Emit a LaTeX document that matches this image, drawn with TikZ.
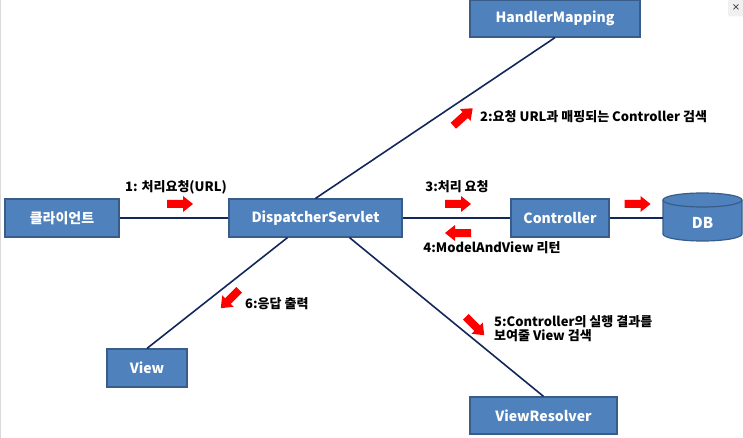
\documentclass[tikz,border=0pt]{standalone}
\usepackage{fontspec}
\setmainfont{Noto Sans CJK KR}
\newfontfamily\symfont{DejaVu Sans}
\begin{document}
\begin{tikzpicture}[x=1pt,y=-1pt,
  box/.style={draw=boxborder,line width=1.2pt,fill=boxfill,text=white,font=\fontsize{14}{16}\selectfont\bfseries,inner sep=0pt,minimum height=38pt},
  conn/.style={draw=linecol,line width=1.6pt},
  lbl/.style={font=\fontsize{13}{14}\selectfont\bfseries,text=black,inner sep=0pt},
  redarrow/.pic={\fill[red] (-13,-4) -- (3,-4) -- (3,-8) -- (13,0) -- (3,8) -- (3,4) -- (-13,4) -- cycle;}
]
\definecolor{boxfill}{HTML}{4F81BD}
\definecolor{boxborder}{HTML}{385D8A}
\definecolor{linecol}{HTML}{13285A}
\useasboundingbox (0,0) rectangle (743,438);
\fill[white] (0,0) rectangle (743,438);
\draw[gray!30,line width=1pt] (0.5,0) -- (0.5,438);
\node[fill=gray!12,rounded corners=2pt,minimum width=16pt,minimum height=17pt,inner sep=0pt,font=\symfont\fontsize{10}{10}\selectfont,text=black!80] (closex) at (736,8) {×};

% boxes
\node[box,minimum width=114pt] (client) at (62,218) {클라이언트};
\node[box,minimum width=173pt] (ds) at (315.5,218) {DispatcherServlet};
\node[box,minimum width=98pt] (ctrl) at (560,218) {Controller};
\node[box,minimum width=170pt,minimum height=37pt] (hm) at (555,18.5) {HandlerMapping};
\node[box,minimum width=80pt] (view) at (147,368) {View};
\node[box,minimum width=147pt,minimum height=37pt] (vr) at (543.5,415.5) {ViewResolver};

% DB cylinder
\fill[boxfill,draw=boxborder,line width=1.2pt] (663,200) -- (663,234) arc[start angle=180,end angle=360,x radius=39.5,y radius=-7] -- (742,200) arc[start angle=0,end angle=180,x radius=39.5,y radius=-7] -- cycle;
\draw[boxborder,line width=1.2pt] (663,200) arc[start angle=180,end angle=360,x radius=39.5,y radius=-7];
\node[text=white,font=\fontsize{15}{16}\selectfont\bfseries,inner sep=0pt,minimum width=79pt,minimum height=40pt] (db) at (702.5,223) {DB};

% connectors
\draw[conn] (client.east) -- (ds.west);
\draw[conn] (ds.east) -- (ctrl.west);
\draw[conn] (ctrl.east) -- (663,218);
\draw[conn] (hm.south) -- (ds.north);
\draw[conn] ([xshift=-28pt]ds.south) -- (view.north);
\draw[conn] ([xshift=34pt]ds.south) -- (vr.north);

% red arrows
\pic at (180,204) {redarrow};
\pic at (458,204) {redarrow};
\pic[rotate=180] at (458,233) {redarrow};
\pic at (637.5,204) {redarrow};
\pic[rotate=42] at (463,117) {redarrow};
\pic[rotate=-135] at (230,299) {redarrow};
\pic[rotate=-45] at (475,326) {redarrow};

% labels
\node[lbl] (l1) at (176,187) {1: 처리요청(URL)};
\node[lbl,anchor=west] (l2) at (480,117) {2:요청 URL과 매핑되는 Controller 검색};
\node[lbl] (l3) at (457,187) {3:처리 요청};
\node[lbl] (l4) at (492,248) {4:ModelAndView 리턴};
\node[lbl,anchor=west,align=left] (l5) at (494,329) {5:Controller의 실행 결과를\\보여줄 View 검색};
\node[lbl,anchor=west] (l6) at (245,304) {6:응답 출력};
\end{tikzpicture}
\end{document}
